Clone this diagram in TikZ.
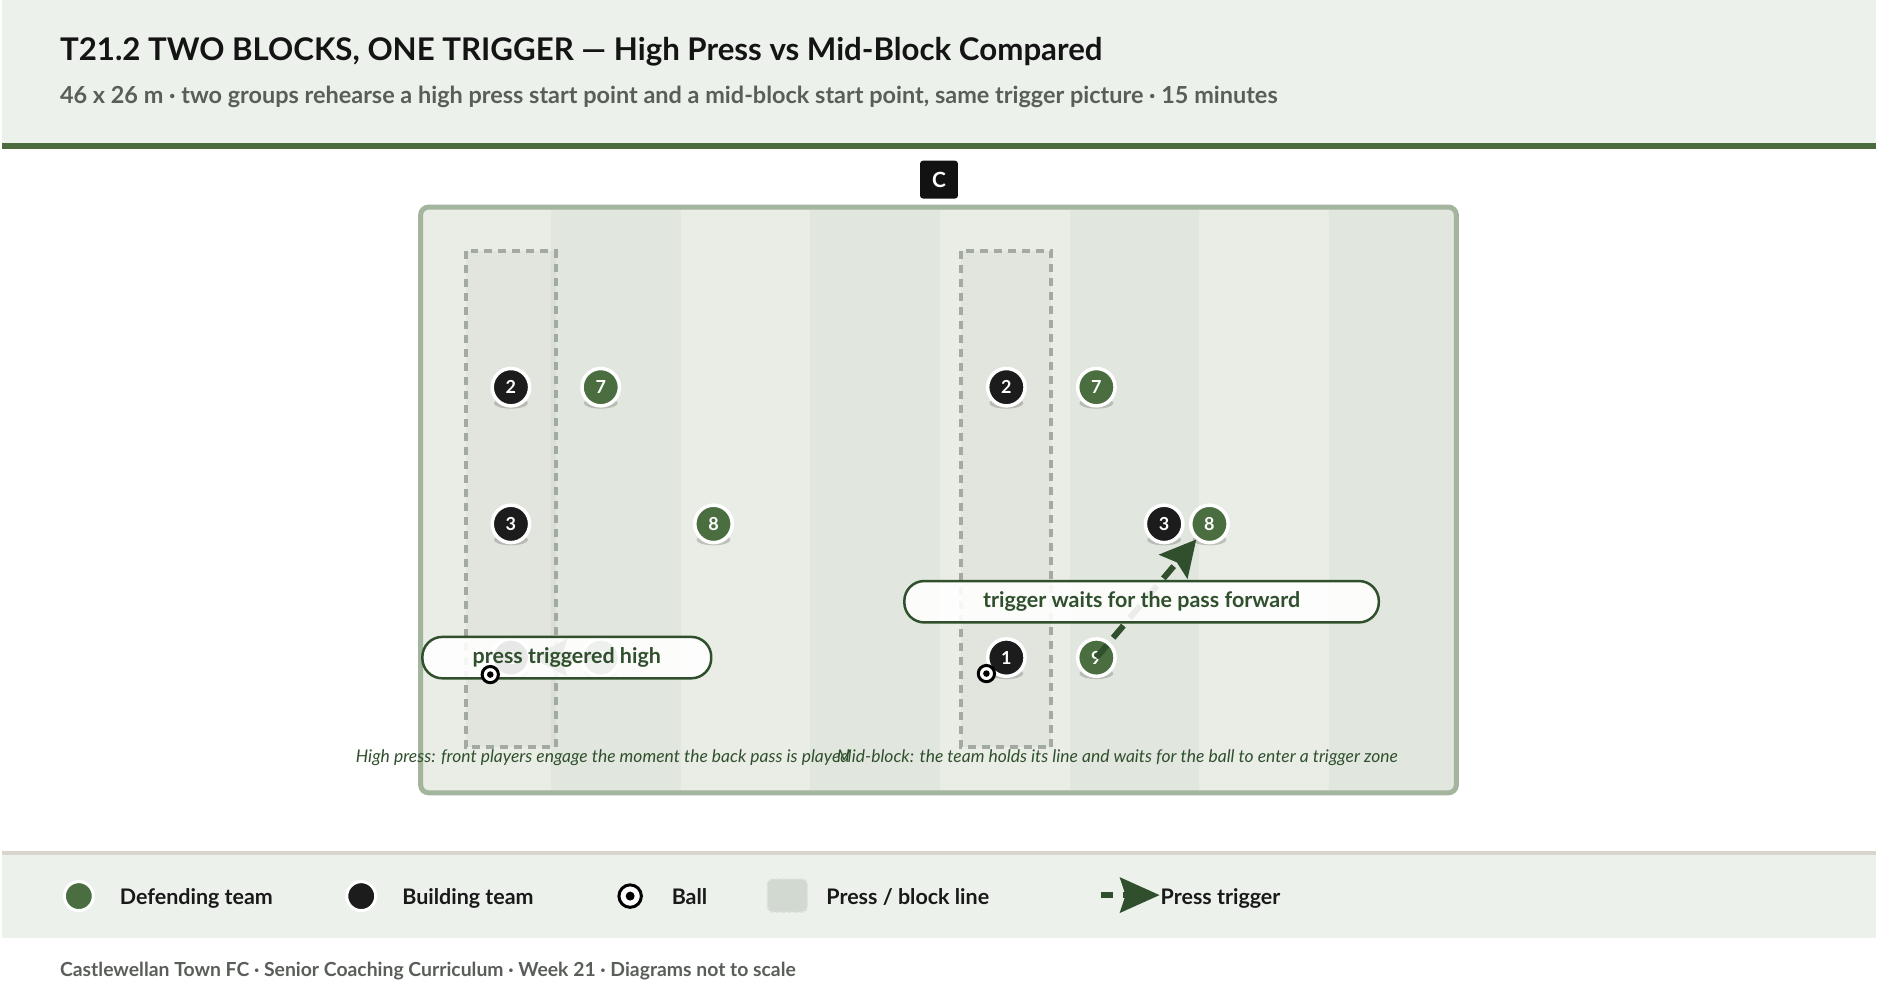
\documentclass[tikz,border=0pt]{standalone}
\usepackage{fontspec}
\setmainfont{Lato}
\usetikzlibrary{arrows.meta}

\definecolor{hdrbg}{HTML}{EDF1EC}
\definecolor{hdrrule}{HTML}{4A6B40}
\definecolor{stripeA}{HTML}{E9EDE6}
\definecolor{stripeB}{HTML}{E1E7DE}
\definecolor{pitchline}{HTML}{A3B59D}
\definecolor{defgreen}{HTML}{4A6E3F}
\definecolor{buildblack}{HTML}{1C1C1C}
\definecolor{blockgrey}{HTML}{A2AAA2}
\definecolor{darkgreen}{HTML}{2F4F2D}
\definecolor{subgrey}{HTML}{595E59}
\definecolor{keyrule}{HTML}{D9D5CC}
\definecolor{keyfill}{HTML}{D2D9D1}

\begin{document}
\begin{tikzpicture}[x=1pt,y=-1pt,
			player/.style={circle,draw=white,line width=3.5pt,minimum size=37.5pt,inner sep=0pt,text=white,font=\fontsize{18}{21}\selectfont\bfseries},
			ball node/.style={circle,draw=black,line width=3pt,fill=white,inner sep=0pt,minimum size=#1},
			block/.style={draw=blockgrey,line width=4pt,dash pattern=on 8pt off 6pt,fill=black,fill opacity=.03},
			trigger/.style={draw=darkgreen,line width=6pt,dash pattern=on 16pt off 10pt,-{Stealth[length=36pt,width=38pt,inset=6pt,line width=0pt]}},
			tag/.style={draw=darkgreen,line width=2.5pt,fill=white,fill opacity=.9,text opacity=1,rounded corners=20pt,minimum height=41.5pt,text=darkgreen,font=\fontsize{21.5}{25}\selectfont\bfseries},
			caption/.style={inner sep=0pt,text=darkgreen,font=\fontsize{17.5}{20}\selectfont\itshape},
			keytext/.style={anchor=base west,inner sep=0pt,text=black!90,font=\fontsize{21.5}{25}\selectfont\bfseries}
			]
			
			\def \w {130};
			\def \dx {496.5};
			
			\fill[hdrbg] (0,0) rectangle (1878,143);
			\fill[hdrrule] (0,143) rectangle (1878,149);
			\node[anchor=base west,inner sep=0pt,text=black!92,font=\fontsize{31.3}{36}\selectfont\bfseries] (title) at (58,60.7) {T21.2 TWO BLOCKS, ONE TRIGGER — High Press vs Mid-Block Compared};
			\node[anchor=base west,inner sep=0pt,text=subgrey,font=\fontsize{23.5}{28}\selectfont\bfseries] (subtitle) at (58,103.3) {46 x 26 m · two groups rehearse a high press start point and a mid-block start point, same trigger picture · 15 minutes};
			
			\begin{scope}
				\clip[rounded corners=8pt] (419.5,207.5) rectangle (1457.5,794.5);
				\foreach \i in {0,2,4,6} {
					\fill[stripeA] (420+\w*\i,205) rectangle +(\w,592);
					\fill[stripeB] (420+\w*\i+\w,205) rectangle +(\w,592);
				}
			\end{scope}
			\draw[pitchline,line width=5pt,rounded corners=8pt] (419.5,207.5) rectangle (1457.5,794.5);
			\node[fill=black!93,rounded corners=3pt,minimum size=38pt,inner sep=0pt,text=white,font=\fontsize{21}{24}\selectfont\bfseries] (coach) at (939,180) {C};
			
			\draw[block] (464.5,252) rectangle (555,749);
			\draw[block] (464.5+\dx,252) rectangle (555+\dx,749);
			
			\foreach \n/\x/\y/\t/\c in {b2l/510/388/2/buildblack, g7l/600/388/7/defgreen, b3l/510/525/3/buildblack, g8l/713/525/8/defgreen, b1l/510/659/1/buildblack, g9l/600/659/9/defgreen,
				b2r/1006.5/388/2/buildblack, g7r/1096.7/388/7/defgreen, b3r/1164.6/525/3/buildblack, g8r/1210/525/8/defgreen, b1r/1006.5/659/1/buildblack, g9r/1096.7/659/9/defgreen} {
				\fill[black,opacity=.18] (\x,\y+16) ellipse (17pt and 5.5pt);
				\node[player,fill=\c] (\n) at (\x,\y) {\t};
			}
			
			\draw[trigger] (g9l.center) -- (b1l);
			\draw[trigger] (g9r.center) -- (g8r);
			
			\node[tag,minimum width=289.5pt] (presshigh) at (566,659) {press triggered high};
			\node[tag,minimum width=475.5pt] (waitforward) at (1142,603) {trigger waits for the pass forward};
			
			\node[ball node=16.3pt] (balll) at (489.3,676) {};
			\fill (balll.center) circle (3.3pt);
			\node[ball node=16.3pt] (ballr) at (986.5,675) {};
			\fill (ballr.center) circle (3.3pt);
			
			\node[caption,anchor=base west] (capleft) at (354.5,764) {High press: front players engage the moment the back pass is played};
			\node[caption,anchor=base east] (capright) at (1399,764) {Mid-block: the team holds its line and waits for the ball to enter a trigger zone};
			
			\fill[hdrbg] (0,855) rectangle (1878,940);
			\draw[keyrule,line width=4pt] (0,855) -- (1878,855);
			
			\node[player,fill=defgreen,minimum size=29pt,line width=3pt] (keydef) at (77,898) {};
			\node[keytext] (keydeftext) at (118,906) {Defending team};
			\node[player,fill=buildblack,minimum size=29pt,line width=3pt] (keybuild) at (360,898) {};
			\node[keytext] (keybuildtext) at (401,906) {Building team};
			\node[ball node=22.5pt] (keyball) at (629.5,898) {};
			\fill (keyball.center) circle (4.5pt);
			\node[keytext] (keyballtext) at (671,906) {Ball};
			\node[draw=black!12,dashed,line width=1.5pt,fill=keyfill,rounded corners=5pt,minimum width=40pt,minimum height=33pt] (keyblock) at (787,897.5) {};
			\node[keytext] (keyblocktext) at (826,906) {Press / block line};
			\coordinate (keyfrom) at (1101,897);
			\coordinate (keyto) at (1160,897);
			\draw[trigger,dash pattern=on 12pt off 10pt,-{Stealth[length=40pt,width=36pt,inset=6pt,line width=0pt]}] (keyfrom) -- (keyto);
			\node[keytext] (keytriggertext) at (1161,906) {Press trigger};
			
			\node[anchor=base west,inner sep=0pt,text=subgrey,font=\fontsize{19.4}{23}\selectfont\bfseries] (footer) at (58,978.3) {Castlewellan Town FC · Senior Coaching Curriculum · Week 21 · Diagrams not to scale};
			
			\useasboundingbox (0,0) rectangle (1878,998);
			
		\end{tikzpicture}
\end{document}
